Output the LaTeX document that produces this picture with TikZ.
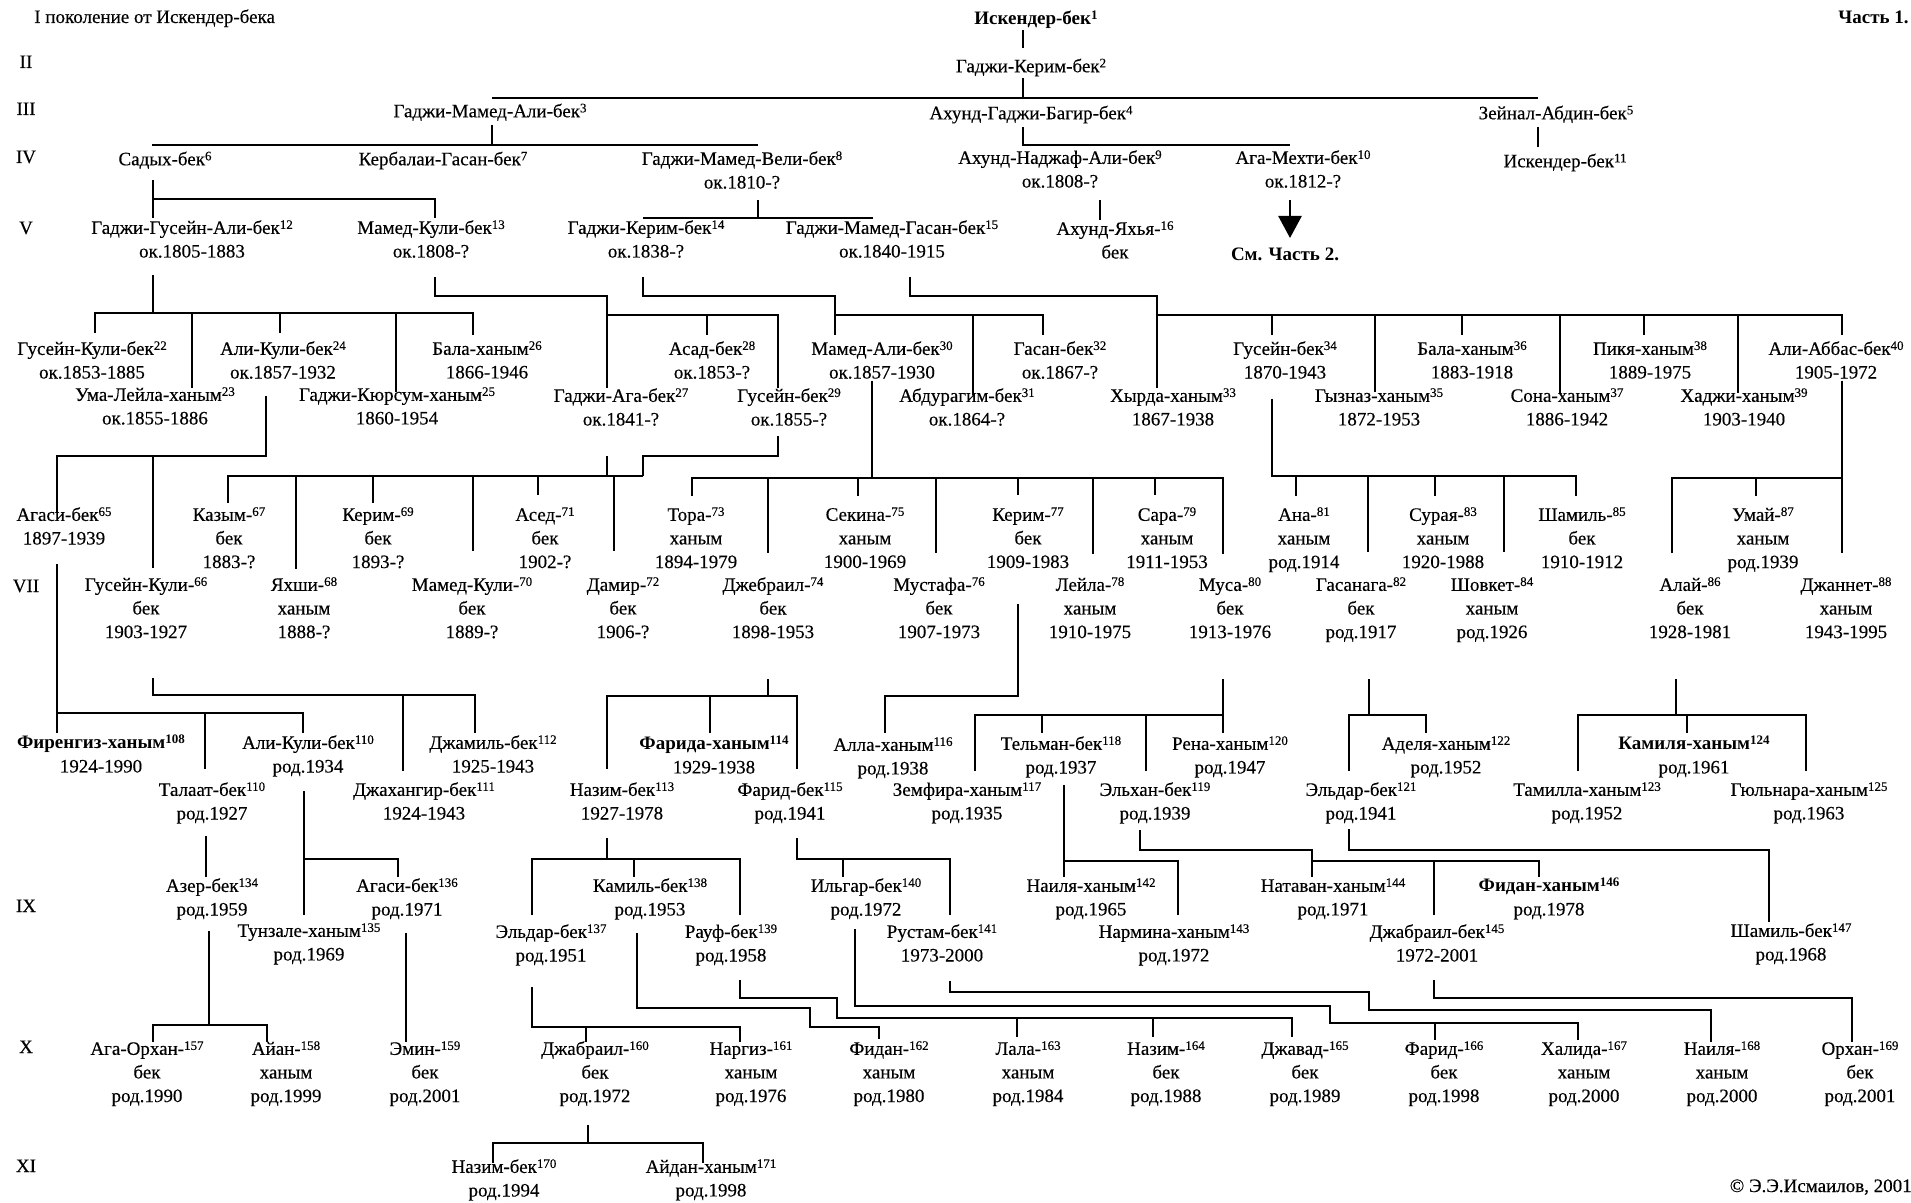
\documentclass[tikz,border=0pt]{standalone}
\usepackage{fontspec}
\setmainfont{Liberation Serif}[UprightFeatures={FakeBold=0.3}]
\usetikzlibrary{arrows.meta}
\newcommand{\nr}[1]{\raisebox{0.26em}{\fontsize{6.5}{6.5}\selectfont #1}}
\tikzset{
  pers/.style={anchor=north, inner sep=0pt, align=center,
    font=\fontsize{9.5}{11.8}\selectfont, execute at begin node={\rule{0pt}{8pt}}},
  gen/.style={anchor=base, inner sep=0pt, font=\fontsize{9.5}{11.8}\selectfont},
}
\begin{document}
\begin{tikzpicture}[x=0.5pt, y=-0.5pt, line width=1.3pt]
\useasboundingbox (0,0) rectangle (1911,1203);
% generations
\node[gen, anchor=base west] (g1) at (33,23) {I поколение от Искендер-бека};
\node[gen] (g2) at (26,68) {II};
\node[gen] (g3) at (26,115) {III};
\node[gen] (g4) at (26,163) {IV};
\node[gen] (g5) at (26,234) {V};
\node[gen] (g7) at (26,592) {VII};
\node[gen] (g9) at (26,912) {IX};
\node[gen] (g10) at (26,1053) {X};
\node[gen] (g11) at (26,1172) {XI};
\node[gen, anchor=base east, font=\fontsize{9.5}{11.8}\selectfont\bfseries] (part1) at (1910,24) {Часть 1.};
\node[gen, anchor=base east] (copy) at (1913,1192) {© Э.Э.Исмаилов, 2001};

% I - V
\node[pers] (n1) at (1036,7) {\textbf{Искендер-бек\nr{1}}};
\node[pers] (n2) at (1031,55) {Гаджи-Керим-бек\nr{2}};
\node[pers] (n3) at (490,100) {Гаджи-Мамед-Али-бек\nr{3}};
\node[pers] (n4) at (1031,102) {Ахунд-Гаджи-Багир-бек\nr{4}};
\node[pers] (n5) at (1556,102) {Зейнал-Абдин-бек\nr{5}};
\node[pers] (n6) at (165,148) {Садых-бек\nr{6}};
\node[pers] (n7) at (443,148) {Кербалаи-Гасан-бек\nr{7}};
\node[pers] (n8) at (742,150) {Гаджи-Мамед-Вели-бек\nr{8}\\ок.1810-?};
\node[pers] (n9) at (1060,149) {Ахунд-Наджаф-Али-бек\nr{9}\\ок.1808-?};
\node[pers] (n10) at (1303,149) {Ага-Мехти-бек\nr{10}\\ок.1812-?};
\node[pers] (n11) at (1565,150) {Искендер-бек\nr{11}};
\node[pers] (n12) at (192,219) {Гаджи-Гусейн-Али-бек\nr{12}\\ок.1805-1883};
\node[pers] (n13) at (431,219) {Мамед-Кули-бек\nr{13}\\ок.1808-?};
\node[pers] (n14) at (646,219) {Гаджи-Керим-бек\nr{14}\\ок.1838-?};
\node[pers] (n15) at (892,219) {Гаджи-Мамед-Гасан-бек\nr{15}\\ок.1840-1915};
\node[pers] (n16) at (1115,220) {Ахунд-Яхья-\nr{16}\\бек};
\node[gen, font=\fontsize{9.5}{11.8}\selectfont\bfseries] (see2) at (1285,261) {См. Часть 2.};

\draw (1023,30) -- (1023,48);
\draw (1023,78) -- (1023,98);
\draw (492,98) -- (1538,98);
\draw (492,125) -- (492,145);
\draw (152,145) -- (758,145);
\draw (1023,127) |- (1290,145);
\draw (1538,127) -- (1538,147);
\draw (153,180) -- (153,218);
\draw (153,199) -| (435,218);
\draw (758,200) -- (758,218);
\draw (643,218) -- (873,218);
\draw (1100,200) -- (1100,220);
\draw[-{Triangle[width=11.5pt,length=11pt]}] (1290,200) -- (1290,238);

% VI
\node[pers] (n22) at (92,340) {Гусейн-Кули-бек\nr{22}\\ок.1853-1885};
\node[pers] (n23) at (155,386) {Ума-Лейла-ханым\nr{23}\\ок.1855-1886};
\node[pers] (n24) at (283,340) {Али-Кули-бек\nr{24}\\ок.1857-1932};
\node[pers] (n25) at (397,386) {Гаджи-Кюрсум-ханым\nr{25}\\1860-1954};
\node[pers] (n26) at (487,340) {Бала-ханым\nr{26}\\1866-1946};
\node[pers] (n27) at (621,387) {Гаджи-Ага-бек\nr{27}\\ок.1841-?};
\node[pers] (n28) at (712,340) {Асад-бек\nr{28}\\ок.1853-?};
\node[pers] (n29) at (789,387) {Гусейн-бек\nr{29}\\ок.1855-?};
\node[pers] (n30) at (882,340) {Мамед-Али-бек\nr{30}\\ок.1857-1930};
\node[pers] (n31) at (967,387) {Абдурагим-бек\nr{31}\\ок.1864-?};
\node[pers] (n32) at (1060,340) {Гасан-бек\nr{32}\\ок.1867-?};
\node[pers] (n33) at (1173,387) {Хырда-ханым\nr{33}\\1867-1938};
\node[pers] (n34) at (1285,340) {Гусейн-бек\nr{34}\\1870-1943};
\node[pers] (n35) at (1379,387) {Гызназ-ханым\nr{35}\\1872-1953};
\node[pers] (n36) at (1472,340) {Бала-ханым\nr{36}\\1883-1918};
\node[pers] (n37) at (1567,387) {Сона-ханым\nr{37}\\1886-1942};
\node[pers] (n38) at (1650,340) {Пикя-ханым\nr{38}\\1889-1975};
\node[pers] (n39) at (1744,387) {Хаджи-ханым\nr{39}\\1903-1940};
\node[pers] (n40) at (1836,340) {Али-Аббас-бек\nr{40}\\1905-1972};

\draw (153,275) -- (153,313);
\draw (95,333) |- (473,313) -- (473,335);
\draw (192,313) -- (192,388);
\draw (280,313) -- (280,333);
\draw (396,313) -- (396,392);
\draw (435,277) |- (607,296) -- (607,388);
\draw (607,315) -| (778,388);
\draw (707,315) -- (707,335);
\draw (643,277) |- (835,296) -- (835,335);
\draw (835,315) -| (1043,335);
\draw (973,315) -- (973,395);
\draw (910,277) |- (1157,296) -- (1157,388);
\draw (1157,315) -| (1842,335);
\draw (1272,315) -- (1272,335);
\draw (1375,315) -- (1375,392);
\draw (1462,315) -- (1462,335);
\draw (1560,315) -- (1560,393);
\draw (1644,315) -- (1644,335);
\draw (1738,315) -- (1738,393);

% VII
\begin{scope}[shift={(0,3)}]
\node[pers] (n65) at (64,503) {Агаси-бек\nr{65}\\1897-1939};
\node[pers] (n66) at (146,573) {Гусейн-Кули-\nr{66}\\бек\\1903-1927};
\node[pers] (n67) at (229,503) {Казым-\nr{67}\\бек\\1883-?};
\node[pers] (n68) at (304,573) {Яхши-\nr{68}\\ханым\\1888-?};
\node[pers] (n69) at (378,503) {Керим-\nr{69}\\бек\\1893-?};
\node[pers] (n70) at (472,573) {Мамед-Кули-\nr{70}\\бек\\1889-?};
\node[pers] (n71) at (545,503) {Асед-\nr{71}\\бек\\1902-?};
\node[pers] (n72) at (623,573) {Дамир-\nr{72}\\бек\\1906-?};
\node[pers] (n73) at (696,503) {Тора-\nr{73}\\ханым\\1894-1979};
\node[pers] (n74) at (773,573) {Джебраил-\nr{74}\\бек\\1898-1953};
\node[pers] (n75) at (865,503) {Секина-\nr{75}\\ханым\\1900-1969};
\node[pers] (n76) at (939,573) {Мустафа-\nr{76}\\бек\\1907-1973};
\node[pers] (n77) at (1028,503) {Керим-\nr{77}\\бек\\1909-1983};
\node[pers] (n78) at (1090,573) {Лейла-\nr{78}\\ханым\\1910-1975};
\node[pers] (n79) at (1167,503) {Сара-\nr{79}\\ханым\\1911-1953};
\node[pers] (n80) at (1230,573) {Муса-\nr{80}\\бек\\1913-1976};
\node[pers] (n81) at (1304,503) {Ана-\nr{81}\\ханым\\род.1914};
\node[pers] (n82) at (1361,573) {Гасанага-\nr{82}\\бек\\род.1917};
\node[pers] (n83) at (1443,503) {Сурая-\nr{83}\\ханым\\1920-1988};
\node[pers] (n84) at (1492,573) {Шовкет-\nr{84}\\ханым\\род.1926};
\node[pers] (n85) at (1582,503) {Шамиль-\nr{85}\\бек\\1910-1912};
\node[pers] (n86) at (1690,573) {Алай-\nr{86}\\бек\\1928-1981};
\node[pers] (n87) at (1763,503) {Умай-\nr{87}\\ханым\\род.1939};
\node[pers] (n88) at (1846,573) {Джаннет-\nr{88}\\ханым\\1943-1995};

\draw (266,393) |- (57,453) -- (57,510);
\draw (153,453) -- (153,565);
\draw (607,453) -- (607,473);
\draw (778,433) |- (643,453) -- (643,473);
\draw (228,500) |- (643,473);
\draw (296,473) -- (296,566);
\draw (373,473) -- (373,500);
\draw (473,473) -- (473,548);
\draw (538,473) -- (538,492);
\draw (614,473) -- (614,548);
\draw (872,378) -- (872,475);
\draw (692,493) |- (1223,475) -- (1223,551);
\draw (768,475) -- (768,550);
\draw (858,475) -- (858,493);
\draw (936,475) -- (936,550);
\draw (1018,475) -- (1018,492);
\draw (1093,475) -- (1093,551);
\draw (1155,475) -- (1155,492);
\draw (1272,396) |- (1576,473) -- (1576,493);
\draw (1296,473) -- (1296,493);
\draw (1368,473) -- (1368,549);
\draw (1435,473) -- (1435,493);
\draw (1504,473) -- (1504,549);
\draw (1842,378) -- (1842,550);
\draw (1672,550) |- (1842,475);
\draw (1756,475) -- (1756,493);
\end{scope}

% VIII
\begin{scope}[shift={(0,6)}]
\node[pers] (n108) at (101,728) {\textbf{Фиренгиз-ханым\nr{108}}\\1924-1990};
\node[pers] (n109) at (212,775) {Талаат-бек\nr{110}\\род.1927};
\node[pers] (n110) at (308,728) {Али-Кули-бек\nr{110}\\род.1934};
\node[pers] (n111) at (424,775) {Джахангир-бек\nr{111}\\1924-1943};
\node[pers] (n112) at (493,728) {Джамиль-бек\nr{112}\\1925-1943};
\node[pers] (n113) at (622,775) {Назим-бек\nr{113}\\1927-1978};
\node[pers] (n114) at (714,729) {\textbf{Фарида-ханым\nr{114}}\\1929-1938};
\node[pers] (n115) at (790,775) {Фарид-бек\nr{115}\\род.1941};
\node[pers] (n116) at (893,730) {Алла-ханым\nr{116}\\род.1938};
\node[pers] (n117) at (967,775) {Земфира-ханым\nr{117}\\род.1935};
\node[pers] (n118) at (1061,729) {Тельман-бек\nr{118}\\род.1937};
\node[pers] (n119) at (1155,775) {Эльхан-бек\nr{119}\\род.1939};
\node[pers] (n120) at (1230,729) {Рена-ханым\nr{120}\\род.1947};
\node[pers] (n121) at (1361,775) {Эльдар-бек\nr{121}\\род.1941};
\node[pers] (n122) at (1446,729) {Аделя-ханым\nr{122}\\род.1952};
\node[pers] (n123) at (1587,775) {Тамилла-ханым\nr{123}\\род.1952};
\node[pers] (n124) at (1694,729) {\textbf{Камиля-ханым\nr{124}}\\род.1961};
\node[pers] (n125) at (1809,775) {Гюльнара-ханым\nr{125}\\род.1963};

\draw (57,558) -- (57,727);
\draw (57,707) -| (303,727);
\draw (205,707) -- (205,763);
\draw (153,672) |- (475,689) -- (475,727);
\draw (403,689) -- (403,765);
\draw (768,673) -- (768,690);
\draw (607,763) |- (797,690) -- (797,763);
\draw (710,690) -- (710,727);
\draw (1018,598) |- (885,690) -- (885,727);
\draw (1223,673) -- (1223,709);
\draw (975,765) |- (1223,709) -- (1223,727);
\draw (1042,709) -- (1042,727);
\draw (1146,709) -- (1146,765);
\draw (1369,673) -- (1369,709);
\draw (1349,765) |- (1426,709) -- (1426,727);
\draw (1676,673) -- (1676,709);
\draw (1578,765) |- (1806,709) -- (1806,765);
\draw (1687,709) -- (1687,727);
\end{scope}

% IX
\begin{scope}[shift={(0,10)}]
\node[pers] (n134) at (212,867) {Азер-бек\nr{134}\\род.1959};
\node[pers] (n135) at (309,912) {Тунзале-ханым\nr{135}\\род.1969};
\node[pers] (n136) at (407,867) {Агаси-бек\nr{136}\\род.1971};
\node[pers] (n137) at (551,913) {Эльдар-бек\nr{137}\\род.1951};
\node[pers] (n138) at (650,867) {Камиль-бек\nr{138}\\род.1953};
\node[pers] (n139) at (731,913) {Рауф-бек\nr{139}\\род.1958};
\node[pers] (n140) at (866,867) {Ильгар-бек\nr{140}\\род.1972};
\node[pers] (n141) at (942,913) {Рустам-бек\nr{141}\\1973-2000};
\node[pers] (n142) at (1091,867) {Наиля-ханым\nr{142}\\род.1965};
\node[pers] (n143) at (1174,913) {Нармина-ханым\nr{143}\\род.1972};
\node[pers] (n144) at (1333,867) {Натаван-ханым\nr{144}\\род.1971};
\node[pers] (n145) at (1437,913) {Джабраил-бек\nr{145}\\1972-2001};
\node[pers] (n146) at (1549,867) {\textbf{Фидан-ханым\nr{146}}\\род.1978};
\node[pers] (n147) at (1791,912) {Шамиль-бек\nr{147}\\род.1968};

\draw (206,826) -- (206,867);
\draw (304,781) -- (304,905);
\draw (304,849) -| (398,867);
\draw (607,828) -- (607,849);
\draw (532,905) |- (740,849) -- (740,905);
\draw (634,849) -- (634,867);
\draw (797,828) |- (950,849) -- (950,905);
\draw (843,849) -- (843,867);
\draw (1064,775) -- (1064,867);
\draw (1064,851) -| (1178,905);
\draw (1140,820) |- (1312,840) -- (1312,867);
\draw (1312,851) -| (1539,867);
\draw (1434,851) -- (1434,905);
\draw (1349,819) |- (1769,840) -- (1769,912);
\end{scope}

% X
\begin{scope}[shift={(0,15)}]
\node[pers] (n157) at (147,1025) {Ага-Орхан-\nr{157}\\бек\\род.1990};
\node[pers] (n158) at (286,1025) {Айан-\nr{158}\\ханым\\род.1999};
\node[pers] (n159) at (425,1025) {Эмин-\nr{159}\\бек\\род.2001};
\node[pers] (n160) at (595,1025) {Джабраил-\nr{160}\\бек\\род.1972};
\node[pers] (n161) at (751,1025) {Наргиз-\nr{161}\\ханым\\род.1976};
\node[pers] (n162) at (889,1025) {Фидан-\nr{162}\\ханым\\род.1980};
\node[pers] (n163) at (1028,1025) {Лала-\nr{163}\\ханым\\род.1984};
\node[pers] (n164) at (1166,1025) {Назим-\nr{164}\\бек\\род.1988};
\node[pers] (n165) at (1305,1025) {Джавад-\nr{165}\\бек\\род.1989};
\node[pers] (n166) at (1444,1025) {Фарид-\nr{166}\\бек\\род.1998};
\node[pers] (n167) at (1584,1025) {Халида-\nr{167}\\ханым\\род.2000};
\node[pers] (n168) at (1722,1025) {Наиля-\nr{168}\\ханым\\род.2000};
\node[pers] (n169) at (1860,1025) {Орхан-\nr{169}\\бек\\род.2001};

\draw (209,916) -- (209,1010);
\draw (153,1027) |- (267,1010) -- (267,1027);
\draw (406,918) -- (406,1027);
\draw (532,972) |- (740,1012) -- (740,1027);
\draw (586,1012) -- (586,1027);
\draw (637,918) |- (810,993) |- (879,1012) -- (879,1024);
\draw (740,965) |- (837,983) |- (1292,1003) -- (1292,1022);
\draw (1017,1003) -- (1017,1022);
\draw (1153,1003) -- (1153,1022);
\draw (855,914) |- (1330,991) |- (1578,1008) -- (1578,1025);
\draw (1435,1008) -- (1435,1025);
\draw (950,966) |- (1369,977) |- (1711,995) -- (1711,1027);
\draw (1434,965) |- (1852,983) -- (1852,1027);
\end{scope}

% XI
\begin{scope}[shift={(0,20)}]
\node[pers] (n170) at (504,1138) {Назим-бек\nr{170}\\род.1994};
\node[pers] (n171) at (711,1138) {Айдан-ханым\nr{171}\\род.1998};

\draw (588,1105) -- (588,1123);
\draw (493,1143) |- (703,1123) -- (703,1143);
\end{scope}
\end{tikzpicture}
\end{document}
